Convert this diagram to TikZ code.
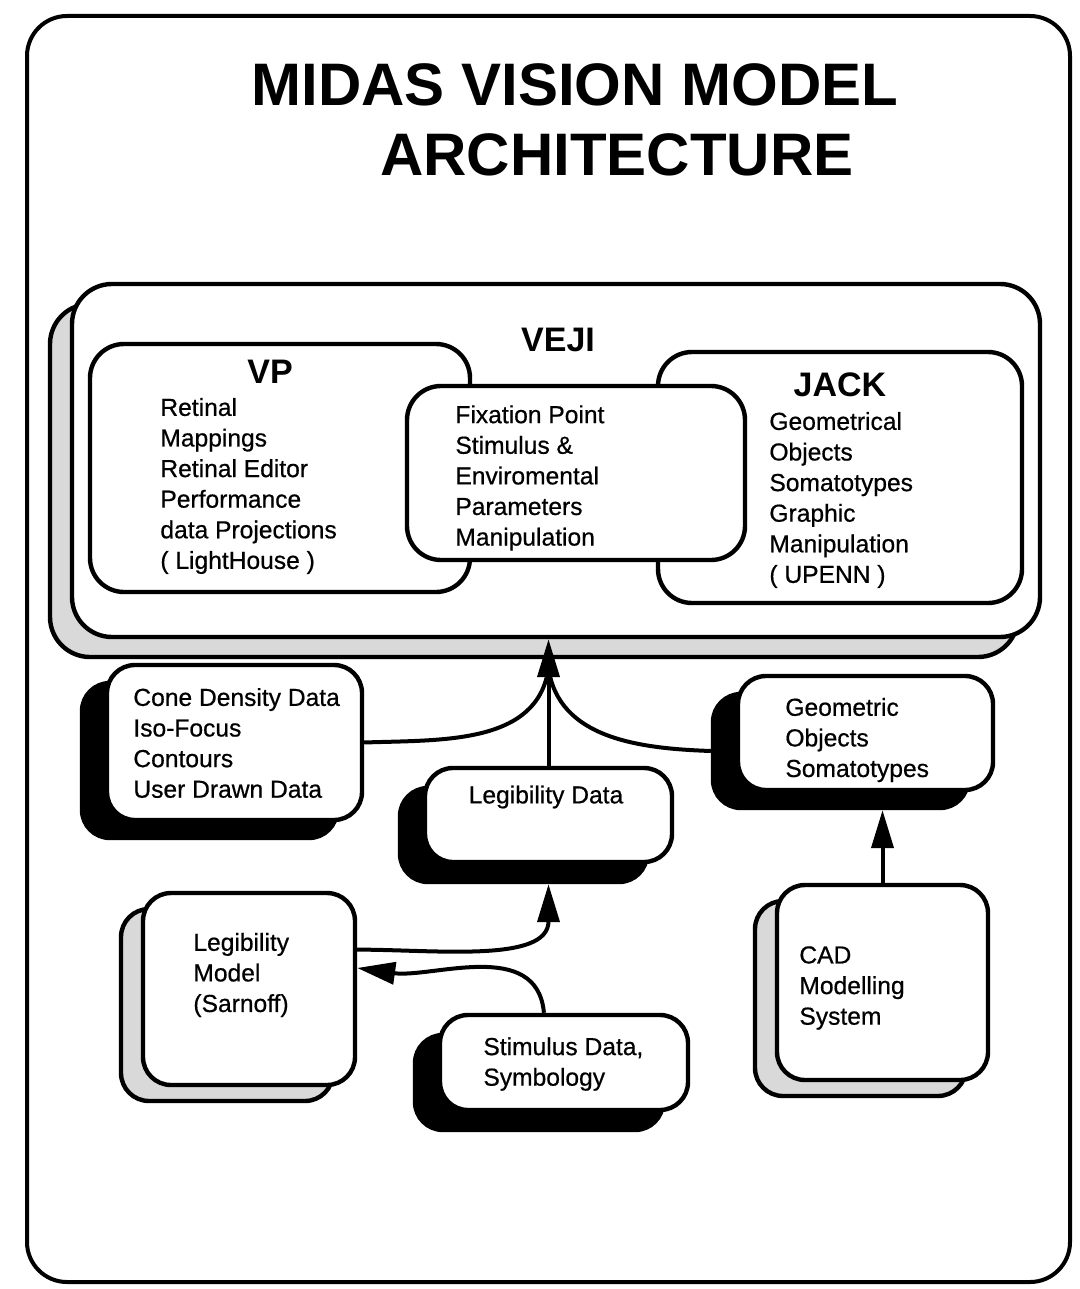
\documentclass[tikz,border=0pt]{standalone}
\usepackage{fontspec}
\setmainfont{Liberation Sans}
\newfontfamily\medfont{Liberation Sans}[FakeBold=0.6]
\usetikzlibrary{arrows.meta}
\tikzset{
  box/.style={draw, line width=2.2pt, fill=white, rounded corners=14pt, inner sep=0pt},
  bigbox/.style={box, rounded corners=20pt},
  shadowbox/.style={draw, fill=black, line width=2.2pt, rounded corners=14pt, inner sep=0pt},
  backbox/.style={draw, fill=black!15, line width=2.2pt, rounded corners=14pt, inner sep=0pt},
  txt/.style={align=left, inner sep=0pt, anchor=west, font=\medfont\fontsize{12.3}{15.3}\selectfont},
  head/.style={inner sep=0pt, font=\bfseries\fontsize{17}{20}\selectfont},
  titletxt/.style={inner sep=0pt, font=\bfseries\fontsize{30}{36}\selectfont},
  conn/.style={line width=2pt},
  tipped/.style={conn, -{Triangle[length=19pt,width=11pt]}}
}
\begin{document}
\begin{tikzpicture}[x=0.5pt,y=-0.5pt]
\useasboundingbox (0,0) rectangle (1080,1289);
% outer frame
\node[draw, line width=2pt, rounded corners=20pt, minimum width=521.5pt, minimum height=633pt, inner sep=0pt] (frame) at (548.5,649) {};
% title
\node[titletxt] (title1) at (575,85) {MIDAS VISION MODEL};
\node[titletxt] (title2) at (617,155) {ARCHITECTURE};

% VEJI
\node[bigbox, fill=black!15, minimum width=484pt, minimum height=176.5pt] (vejib) at (534,480.5) {};
\node[bigbox, minimum width=484pt, minimum height=176.5pt] (vejif) at (556,460.5) {};
\node[head] (vejilabel) at (558,340) {VEJI};

% VP
\node[box, rounded corners=17pt, minimum width=190pt, minimum height=124pt] (vp) at (280,468) {};
% JACK
\node[box, rounded corners=17pt, minimum width=182pt, minimum height=125.5pt] (jack) at (840,477.5) {};
% center
\node[box, rounded corners=17pt, minimum width=169pt, minimum height=87pt] (fix) at (576,473) {};

\node[head] (vptitle) at (270,372) {VP};
\node[txt] (vptext) at (160,486) {Retinal\\Mappings\\Retinal Editor\\Performance\\data Projections\\( LightHouse )};
\node[head] (jacktitle) at (840,385) {JACK};
\node[txt] (jacktext) at (769,500) {Geometrical\\Objects\\Somatotypes\\Graphic\\Manipulation\\( UPENN )};
\node[txt] (fixtext) at (455,478) {Fixation Point\\Stimulus \&\\Enviromental\\Parameters\\Manipulation};

% Cone density
\node[shadowbox, minimum width=127.5pt, minimum height=77.5pt] (conesh) at (209.5,760.5) {};
\node[box, minimum width=127.5pt, minimum height=77.5pt] (cone) at (234.5,742.5) {};
\node[txt] (conetext) at (133,743) {Cone Density Data\\Iso-Focus\\Contours\\User Drawn Data};

% Legibility data
\node[shadowbox, minimum width=123.5pt, minimum height=47pt] (legdatash) at (523.5,835) {};
\node[box, minimum width=123.5pt, minimum height=47pt] (legdata) at (548.5,815) {};
\node[inner sep=0pt, font=\medfont\fontsize{12.3}{15.3}\selectfont] (legdatatext) at (546,797) {Legibility Data};

% Geometric objects
\node[shadowbox, minimum width=127.5pt, minimum height=57pt] (geomsh) at (840.5,751) {};
\node[box, minimum width=127.5pt, minimum height=57pt] (geom) at (865.5,733) {};
\node[txt] (geomtext) at (785,740) {Geometric\\Objects\\Somatotypes};

% Legibility model
\node[backbox, minimum width=106pt, minimum height=96pt] (legmodelb) at (227,1005) {};
\node[box, minimum width=106pt, minimum height=96pt] (legmodel) at (249,989) {};
\node[txt] (legmodeltext) at (193,975) {Legibility\\Model\\(Sarnoff)};

% Stimulus data
\node[shadowbox, minimum width=124pt, minimum height=47.5pt] (stimsh) at (539,1082.5) {};
\node[box, minimum width=124pt, minimum height=47.5pt] (stim) at (564,1062.5) {};
\node[txt] (stimtext) at (483,1064) {Stimulus Data,\\Symbology};

% CAD
\node[backbox, minimum width=105.5pt, minimum height=97.5pt] (cadb) at (860.5,998.5) {};
\node[box, minimum width=105.5pt, minimum height=97.5pt] (cad) at (882.5,982.5) {};
\node[txt] (cadtext) at (799,988) {CAD\\Modelling\\System};

% connectors
\coordinate (merge) at (548.5,668);
\draw[tipped] (legdata.north) -- (legdata.north |- vejif.south);
\draw[conn] (cone.east) to[out=2, in=-98] (merge);
\draw[conn] (geomsh.west) to[out=178, in=-82] (merge);
\draw[tipped] (legmodel.20) to[out=0, in=-90] (legdata.south |- legdatash.south);
\draw[tipped] (stim.112) to[out=95, in=-8] (legmodel.11);
\draw[tipped] (cad.north) -- (cad.north |- geomsh.south);
\end{tikzpicture}
\end{document}
